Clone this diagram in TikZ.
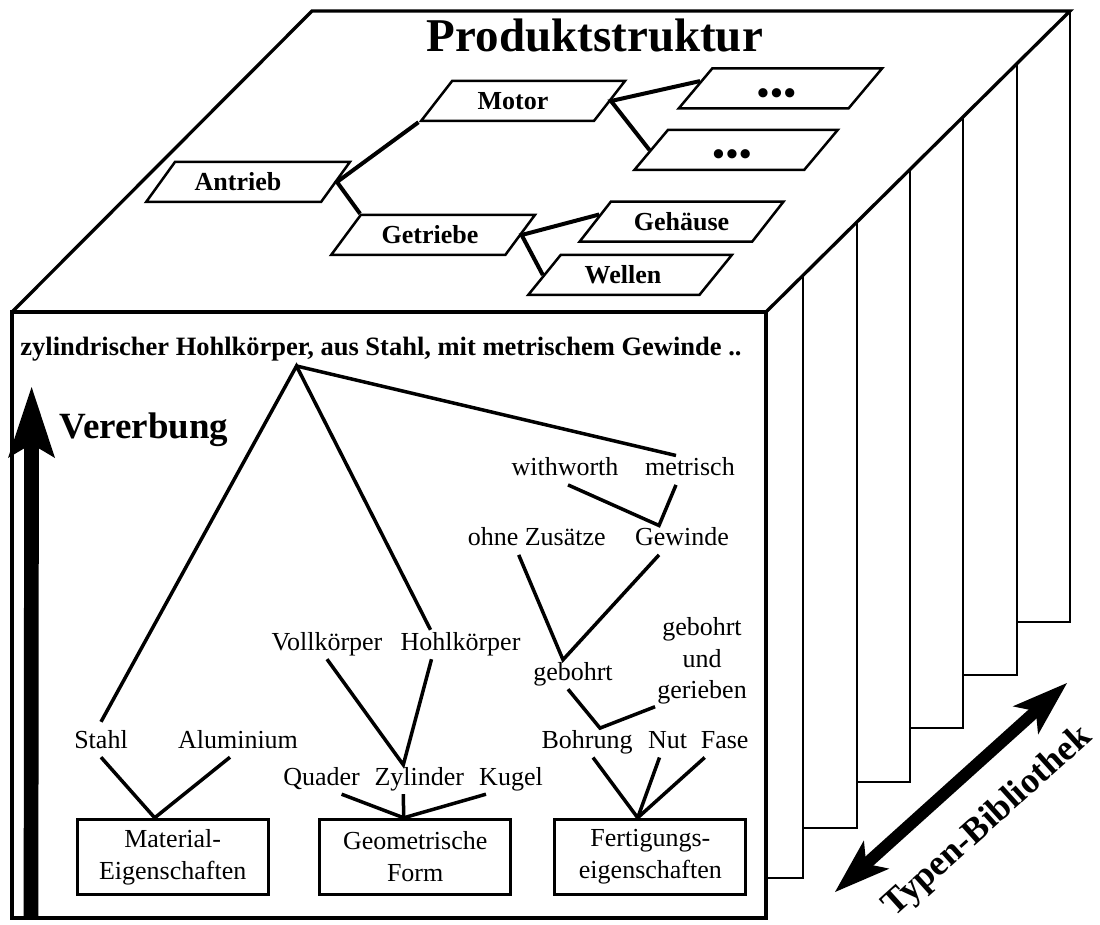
\documentclass[tikz,border=0pt]{standalone}
\usepackage{fontspec}
\setmainfont{Liberation Serif}
\usetikzlibrary{shapes.geometric,arrows.meta,calc}
\newcommand\tridots{\rule{0pt}{10pt}\raisebox{-11pt}[0pt][0pt]{\fontsize{34}{38}\selectfont\textbullet\kern1.5pt\textbullet\kern1.5pt\textbullet}}
\begin{document}
\begin{tikzpicture}[x=1pt,y=-1pt,
  para/.style={draw, line width=2.5pt, trapezium, trapezium left angle=41, trapezium right angle=139,
    trapezium stretches=true, minimum width=204pt, minimum height=40pt, inner sep=0pt,
    font=\bfseries\fontsize{26}{30}\selectfont},
  conn/.style={line width=4pt, line join=miter},
  lbl/.style={font=\fontsize{26}{31.7}\selectfont, text height=17pt, text depth=6pt, inner sep=3pt, anchor=base},
  catbox/.style={draw, line width=3pt, minimum width=191pt, minimum height=75pt, align=center,
    font=\fontsize{26}{32}\selectfont, inner sep=0pt},
  tree/.style={line width=3.5pt, line join=miter},
  edge3d/.style={line width=3.3pt, line join=miter},
  page/.style={line width=2.5pt, line join=miter},
  bigtxt/.style={font=\bfseries\fontsize{37}{44}\selectfont, inner sep=0pt}
]
\useasboundingbox (0,0) rectangle (1100,925);
% box: top face and front face
\draw[edge3d] (12,312) -- (312,11) -- (1070,11) -- (766,312);
\draw[edge3d] (12,312) rectangle (766,918);
% library pages on the right
\draw[page] (1070,11) -- (1070,622) -- (1017,622);
\draw[page] (1017,63) -- (1017,675) -- (963,675);
\draw[page] (963,117) -- (963,728) -- (910,728);
\draw[page] (910,169) -- (910,782) -- (857,782);
\draw[page] (857,222) -- (857,828) -- (803,828);
\draw[page] (803,275) -- (803,878) -- (766,878);

% product structure
\node[font=\bfseries\fontsize{47}{56}\selectfont, anchor=base, inner sep=0pt] (title) at (595,51.7) {Produktstruktur};
\node[para] (antrieb) at (248,182) {Antrieb\hspace*{20pt}};
\node[para] (motor) at (523,101) {Motor\hspace*{20pt}};
\node[para] (getriebe) at (433,235) {Getriebe\hspace*{6pt}};
\node[para] (dotsA) at (780.5,88.3) {\tridots\hspace*{8pt}};
\node[para] (dotsB) at (736,150) {\tridots\hspace*{8pt}};
\node[para] (gehaeuse) at (681.5,221.7) {Gehäuse};
\node[para] (wellen) at (630,275) {Wellen\hspace*{14pt}};
\draw[conn] (motor.bottom left corner) -- (antrieb.right side) -- (getriebe.top left corner);
\draw[conn] ($(dotsA.top left corner)!0.33!(dotsA.bottom left corner)$) -- (motor.right side) -- (dotsB.left side);
\draw[conn] ($(gehaeuse.top left corner)!0.33!(gehaeuse.bottom left corner)$) -- (getriebe.right side) -- (wellen.left side);

% front face
\node[font=\bfseries\fontsize{26.5}{31}\selectfont, anchor=base, inner sep=0pt] (head) at (381,355)
  {zylindrischer Hohlkörper, aus Stahl, mit metrischem Gewinde ..};
\coordinate (apex) at (296.5,366);

\node[bigtxt, anchor=base west] (vererbung) at (59.6,438) {Vererbung};
\coordinate (vbot) at (31,916);
\coordinate (vtop) at (31.6,387);
\draw[line width=14.7pt, -{Stealth[length=71pt,width=47pt,inset=14pt,line width=0pt]}] (vbot) -- (vtop);

\node[bigtxt, font=\bfseries\fontsize{36}{44}\selectfont, rotate=42] (typen) at (988,822) {Typen-Bibliothek};
\coordinate (tlow) at (835,892);
\coordinate (thigh) at (1067,683);
\draw[line width=12pt, {Stealth[length=56pt,width=38pt,inset=14pt,line width=0pt]}-{Stealth[length=56pt,width=38pt,inset=14pt,line width=0pt]}] (tlow) -- (thigh);

\node[lbl] (stahl) at (101,748) {Stahl};
\node[lbl] (alu) at (238,748) {Aluminium};
\node[lbl] (voll) at (327,650) {Vollkörper};
\node[lbl] (hohl) at (460.5,650) {Hohlkörper};
\node[lbl] (quader) at (321.6,785) {Quader};
\node[lbl] (zyl) at (419.3,785) {Zylinder};
\node[lbl] (kugel) at (511,785) {Kugel};
\node[lbl] (withw) at (565,475.7) {withworth};
\node[lbl] (metr) at (690,475.7) {metrisch};
\node[lbl] (ohne) at (536.7,545.7) {ohne Zusätze};
\node[lbl] (gew) at (682,545.7) {Gewinde};
\node[lbl] (gebohrt) at (573,680) {gebohrt};
\node[font=\fontsize{26}{31.7}\selectfont, align=center, inner sep=2pt] (ger) at (702,661) {gebohrt\\und\\gerieben};
\node[lbl] (bohrung) at (587,748.3) {Bohrung};
\node[lbl] (nut) at (667.5,748.3) {Nut};
\node[lbl] (fase) at (724.7,748.3) {Fase};
\node[catbox] (mat) at (172.7,856.8) {Material-\\Eigenschaften};
\node[catbox] (geo) at (415.2,856.8) {Geometrische\\Form};
\node[catbox] (fert) at (650.4,856.8) {Fertigungs-\\eigenschaften};

\draw[tree] ([yshift=6pt]stahl.north) -- (apex) -- ([xshift=-30pt]hohl.north);
\draw[tree] (apex) -- ([xshift=-14pt]metr.north);
\draw[tree] (stahl.south) -- ([xshift=-18pt]mat.north) -- ([xshift=-8pt]alu.south);
\draw[tree] (voll.south) -- ([xshift=-16pt]zyl.north) -- ([xshift=-29pt]hohl.south);
\draw[tree] ([xshift=20pt]quader.south) -- ([xshift=-11.5pt]geo.north) -- ([xshift=-25pt]kugel.south);
\draw[tree] ([xshift=-16pt]zyl.south) -- ([xshift=-11.5pt]geo.north);
\draw[tree] ([xshift=3pt]withw.south) -- ([xshift=-23pt]gew.north) -- ([xshift=-14pt]metr.south);
\draw[tree] ([xshift=-18pt]ohne.south) -- ([xshift=-10pt]gebohrt.north) -- ([xshift=-23pt]gew.south);
\draw[tree] ([xshift=-5pt]gebohrt.south) -- ([xshift=13pt]bohrung.north) -- (ger.south west);
\draw[tree] ([xshift=6pt]bohrung.south) -- ([xshift=-12.7pt]fert.north) -- ([xshift=-20pt]fase.south);
\draw[tree] ([xshift=-8pt]nut.south) -- ([xshift=-12.7pt]fert.north);
\end{tikzpicture}
\end{document}
